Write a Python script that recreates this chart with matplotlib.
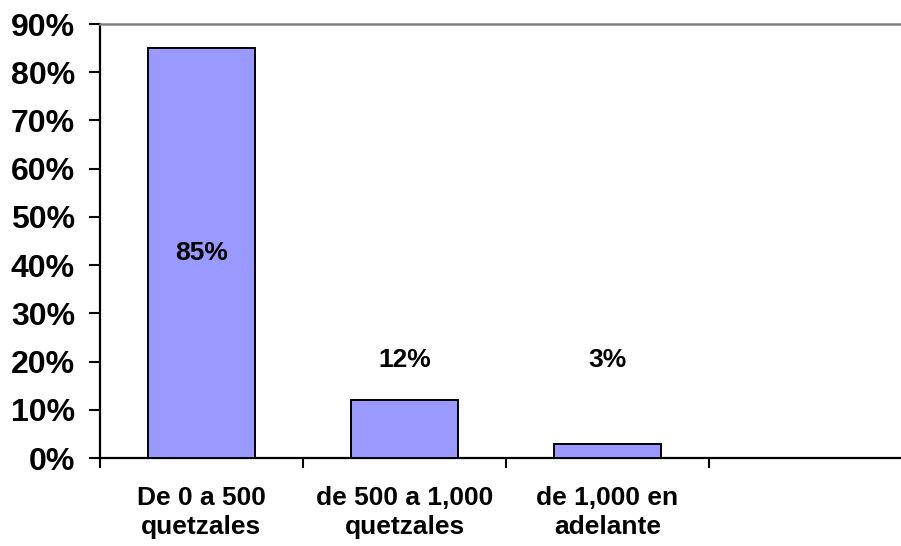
#!/usr/bin/env python3

import numpy as np
import matplotlib.pyplot as plt
from matplotlib.ticker import PercentFormatter

# data
categories = ["De 0 a 500\nquetzales", "de 500 a 1,000\nquetzales", "de 1,000 en\nadelante", ""]
values = [85, 12, 3]
yticks = np.arange(0, 100, 10)

plt.rcParams['font.family'] = ['Liberation Sans', 'DejaVu Sans']
plt.rcParams['font.weight'] = 'bold'

fig = plt.figure(figsize=(9.01, 5.46), dpi=100)
ax = fig.add_axes([100/901, 88/546, 812/901, 434/546])

x = np.arange(len(values))
ax.bar(x, values, width=0.527, color="#9999ff", edgecolor="black", linewidth=1.4, zorder=3)

for xi, v in zip(x, values):
    ax.text(xi, max(v/2, 20.3), f"{v}%", ha="center", va="center",
            fontsize=19, fontweight="bold")

ax.set_xlim(-0.5, len(categories) - 0.5)
ax.set_ylim(0, 90)
ax.set_yticks(yticks)
ax.yaxis.set_major_formatter(PercentFormatter(decimals=0))
ax.tick_params(axis="y", labelsize=23, length=8, width=1.5, pad=10)

# tick marks between categories, labels under the centres
ax.set_xticks(np.arange(len(categories) + 1) - 0.5)
ax.set_xticklabels([])
ax.set_xticks(np.arange(len(categories)), minor=True)
ax.set_xticklabels(categories, minor=True, fontsize=19, fontweight="bold", linespacing=1.3)
ax.tick_params(axis="x", which="major", length=7, width=1.5)
ax.tick_params(axis="x", which="minor", length=0, pad=20)
for lab in ax.get_yticklabels():
    lab.set_fontweight("bold")

ax.spines["left"].set_linewidth(1.6)
ax.spines["bottom"].set_linewidth(1.6)
ax.spines["top"].set_color("#808080")
ax.spines["top"].set_linewidth(1.8)
ax.spines["right"].set_visible(False)

fig.savefig("out.png", dpi=100)
